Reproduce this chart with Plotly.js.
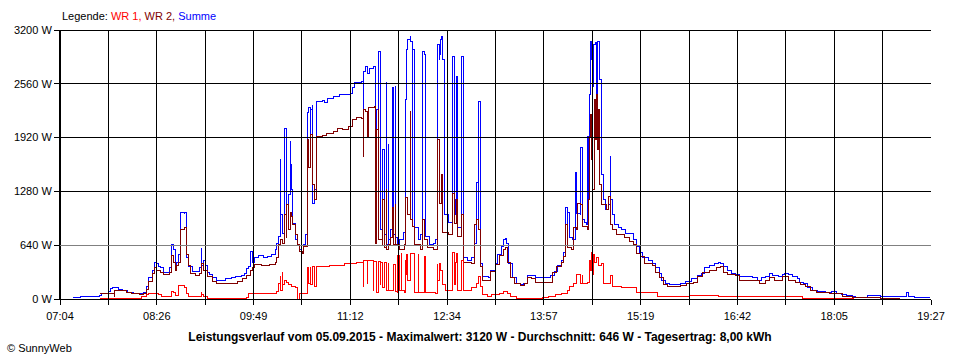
<!DOCTYPE html>
<html>
<head>
<meta charset="utf-8">
<script src="https://cdn.plot.ly/plotly-3.0.1.min.js"></script>
<style>
  html, body { margin: 0; padding: 0; background: #ffffff; }
  #chart { width: 960px; height: 360px; }
  #chart .scatterlayer path, #chart .shapelayer path { shape-rendering: crispEdges; }
</style>
</head>
<body>
<div id="chart"></div>
<script>
// Time in minutes after midnight, power in W
const sumT = [435.1,441.1,449.6,458.1,459,465,467.5,469.2,473.5,476.9,
482,486.3,492.2,494.8,497.4,499.9,502.5,504.2,505.9,507.6,
509.3,511.9,515.3,517.8,518.7,519.5,521.2,522.1,523.8,525.5,
526.4,527.2,529.8,530.6,531.5,532.3,534,536.6,540,542.6,
544.3,545.1,546.8,547.7,549.4,551.9,554.5,557.1,562.2,565.6,
569.9,574.1,578.4,581,583.5,585.2,586.1,587.8,590.3,593.7,
597.2,601.4,604.8,607.4,609.1,610.8,611.7,612.5,613.4,615.1,
615.9,616.8,617.6,618.5,619.3,620.2,621,621.9,622.7,624.5,
626.2,627.9,629.6,631.3,633,634.7,635.5,636.4,637.3,638.1,
639,639.8,641.5,642.4,647.5,650,652.6,657.7,662.8,668,
671.4,673.1,674.8,681.6,682.5,683.3,685,686.7,688.4,691.8,
693.5,694.4,695.3,697,697.8,699.5,700.4,702.1,702.9,703.8,
704.6,706.3,708,708.9,709.8,710.6,712.3,714,716.6,718.3,
719.1,720,720.8,722.6,723.4,724.3,725.1,726,726.8,729.4,
731.9,732.8,733.6,735.3,736.2,739.6,743,744.7,745.6,747.3,
748.1,749,749.8,750.7,751.6,755,758.4,759.2,760.1,761.8,
762.6,763.5,766.1,766.9,767.8,772,775.4,777.2,778.9,779.7,
780.6,781.4,782.3,784.8,789.1,791.6,795.1,797.6,800.2,802.7,
804.4,805.3,807,809.6,813,816.4,819.8,823.2,826.6,829.2,
837.7,842,845.4,848.8,851.4,853.9,855.6,856.5,857.3,858.2,
861.6,864.1,865,867.6,868.4,869.3,871.8,873.5,874.4,875.2,
876.1,876.9,877.8,878.6,879.5,881.2,882,882.9,884.6,885.5,
886.3,887.2,889.7,892.3,893.2,894,894.9,896.6,900,903.4,
906.8,910.2,912.8,916.2,918.7,921.3,925.6,929,932.4,935,
937.5,940.1,944.3,952.9,958,963.1,967.4,970.8,974.2,978.4,
981.9,985.3,987.8,990.4,993,996.4,999.8,1004,1010,1015.1,
1019.4,1022.8,1026.2,1029.6,1032.2,1036.5,1039.9,1042.4,1045.8,1049.2,
1052.7,1055.2,1058.6,1062,1065.5,1070.6,1077.4,1082.5,1086.8,1091,
1095.3,1100.4,1103,1112.4,1113.2,1120.9,1123.5,1132,1137.1,1145.6,
1146.5,1147.4,1152.5,1166.1];
const sumW = [12,24,30,42,71,95,125,131,119,101,
77,60,60,83,143,250,345,440,417,387,
369,321,321,369,452,643,583,381,440,524,
1000,1035,1012,1035,619,488,381,333,333,369,
595,393,464,393,321,286,250,226,226,238,
250,262,274,309,357,381,571,440,488,512,
488,500,524,583,655,738,1654,1000,785,1178,
2023,1297,1119,845,1238,1868,1595,1297,904,702,
643,583,559,643,762,845,2213,2273,1690,2249,
2297,1142,1297,2344,2356,2332,2380,2404,2428,2428,
2440,2511,2570,2582,1690,2701,2761,2678,2737,2761,
738,2249,2939,2939,821,1773,762,2570,643,1833,
702,821,2511,762,2523,726,643,702,797,2035,
2368,2963,3082,3118,3059,940,2963,2225,845,702,
762,2047,2939,2904,738,643,666,702,3023,2844,
2904,3082,3118,2844,1000,916,964,2880,1178,1000,
2642,845,821,2880,488,464,488,666,762,1380,
821,2344,428,262,250,345,428,524,619,702,
714,666,428,250,190,167,190,274,274,250,
250,274,333,393,464,559,1083,762,1035,726,
702,1499,1023,1000,1797,940,916,881,1928,1178,
2428,3058,2844,2523,3023,3046,2130,3058,2606,1654,
1476,1178,1059,1119,1690,1178,1000,881,845,821,
785,774,702,619,559,488,464,428,369,298,
226,179,167,179,214,238,274,309,369,393,
417,440,428,381,345,309,286,262,262,250,
226,250,262,298,274,262,286,309,286,262,
238,202,179,131,107,95,83,95,71,48,
36,24,12,12,36,42,24,30,24,24,
83,24,12,12];

const wr2T = [458.1,469.2,470.1,470.9,475.2,480.3,485.4,492.2,494.8,497.4,
499.9,502.5,504.2,506.7,509.3,511.9,515.3,517.8,519.5,521.2,
522.1,523.8,525.5,526.4,530.6,531.5,533.2,535.7,540,543.4,
544.3,546,549.4,553.7,557.9,569,575,580.1,583.5,586.1,
587.8,590.3,596.3,603.1,607.4,609.1,610.8,611.7,613.4,615.1,
615.9,616.8,617.6,618.5,620.2,621.9,622.7,624.5,626.2,627.9,
630.5,632.1,634.7,635.5,636.4,637.3,638.1,639,639.8,641.5,
642.4,647.5,651.7,656.9,661.1,665.4,669.7,673.1,676.5,681.6,
682.5,683.3,685,686.7,687.5,692.6,693.5,694.4,695.3,696.1,
698.7,699.5,700.4,702.1,702.9,704.6,706.3,708,708.9,709.8,
710.6,714,717.5,719.1,720.8,722.6,723.4,725.1,726.8,731.1,
733.6,735.3,737.9,743,745.6,746.4,748.1,749.8,750.7,755,
758.4,759.2,760.9,762.6,763.5,766.9,767.8,775.4,778,779.7,
781.4,782.3,784.8,789.1,791.6,795.1,798.5,801.9,804.4,806.1,
808.7,812.1,816.4,820.6,823.2,826.6,829.2,840.3,844.5,847.9,
851.4,853.9,854.8,856.5,857.3,860.7,862.4,865,865.8,868.4,
869.3,874.4,875.2,876.1,876.9,877.8,878.6,880.3,881.2,882,
882.9,883.7,884.6,886.3,890.6,892.3,894,895.7,899.1,905.9,
910.2,913.6,916.2,919.6,923,929,932.4,935.8,939.2,942.6,
952.9,958.8,964,968.2,972.5,978.4,983.6,987.8,990.4,993.8,
999.8,1004,1018.5,1021.1,1025.4,1029.6,1033.9,1040.7,1045.8,1051.8,
1056.1,1060.3,1064.6,1069.7,1080.8,1087.6,1091.9,1100.4,1112.4,1123.5,
1140.5];
const wr2W = [71,71,24,107,101,77,60,54,71,119,
214,298,369,345,321,286,286,321,512,440,
345,393,440,821,845,524,393,298,274,309,
417,345,262,214,190,190,214,238,274,345,
369,405,393,405,440,488,643,702,666,881,
1000,726,1119,821,1035,976,881,762,643,571,
547,619,797,1892,1559,1833,1952,1535,1357,1178,
1928,1940,1964,1987,2023,2011,2047,2130,2154,2142,
1690,2249,2225,1928,2273,2285,666,2011,2249,702,
643,1178,607,1297,583,643,726,1083,643,1119,
643,583,643,1202,1000,2225,940,857,643,583,
940,702,607,583,643,1892,1142,1476,797,762,
904,1261,904,1178,738,1000,440,428,881,940,
821,381,226,226,333,405,512,583,607,440,
250,179,155,190,250,238,202,202,321,381,
440,500,881,762,607,583,845,821,1142,1119,
857,821,1178,1928,2190,1654,1297,2368,1892,2428,
1773,2249,1357,1119,1059,1214,881,821,762,726,
690,643,547,500,428,393,321,250,167,143,
155,190,202,262,321,345,369,381,321,286,
274,226,226,190,226,250,226,262,226,202,
167,143,107,83,71,60,24,12,12,6,
0];

const wr1T = [458.1,469.2,493.9,497.4,499.9,505,507.6,511,517.8,518.7,
520.4,522.1,524.7,525.5,529.8,530.6,532.3,534,543.4,544.3,
545.1,546.8,549.4,583.5,585.2,607.4,609.1,610.8,611.7,612.5,
613.4,614.2,615.9,617.6,619.3,621.9,624.5,626.2,627,627.9,
634.7,635.5,636.4,637.3,638.1,639,641.5,642.4,654.3,667.1,
677.3,682.5,683.3,685.9,686.7,691,691.8,694.4,695.3,697,
697.8,699.5,701.2,702.1,703.8,704.6,708,708.9,709.8,711.5,
712.3,713.2,714.9,715.7,717.5,718.3,719.1,720,720.8,722.6,
725.1,726.8,729.4,730.2,734.5,735.3,736.2,744.7,745.6,746.4,
747.3,749,750.7,753.2,759.2,760.1,761.8,762.6,763.5,766.9,
768.6,774.6,778.9,780.6,782.3,784,788.3,792.5,798.5,802.7,
806.1,808.7,813.8,836,840.3,847.1,852.2,856.5,859,862.4,
865,867.6,869.3,870.1,874.4,876.1,876.9,877.8,878.6,879.5,
880.3,882,883.7,885.5,887.2,891.4,893.2,894.9,903.4,916.2,
934.1,961.4,985.3,1057.8,1100.4,1101.2];
const wr1W = [6,6,24,48,71,65,48,30,30,95,
83,42,48,155,155,131,60,30,24,83,
48,24,8,12,60,65,95,190,262,107,
321,167,226,202,167,143,131,107,0,71,
83,369,190,369,167,381,143,387,393,417,
440,143,464,190,464,107,452,83,452,167,
440,131,440,107,428,107,107,405,95,83,
512,107,536,107,83,464,286,524,226,547,
547,83,524,83,83,500,83,71,405,226,
428,345,167,107,559,167,440,547,107,464,
107,131,190,262,143,48,24,48,71,95,
60,24,8,12,24,48,71,107,143,190,
286,190,274,179,202,464,345,559,286,524,
440,488,393,428,190,179,274,143,131,83,
24,42,24,8,6,0];

// Axis labels
const xStart = 424;   // 07:04
const xEnd = 1167;    // 19:27
const xLabels = ["07:04","08:26","09:49","11:12","12:34","13:57","15:19","16:42","18:05","19:27"];
const yTicks = [0, 640, 1280, 1920, 2560, 3200];
const yLabels = ["0 W","640 W","1280 W","1920 W","2560 W","3200 W"];

const nGrid = (xLabels.length - 1) * 2;
const xGrid = [];
const xText = [];
for (let i = 0; i <= nGrid; i++) {
  xGrid.push(xStart + (xEnd - xStart) * i / nGrid);
  xText.push(i % 2 === 0 ? xLabels[i / 2] : "");
}

const shapes = [];
xGrid.forEach(v => shapes.push({
  type: 'line', xref: 'x', yref: 'paper', x0: v, x1: v, y0: 0, y1: 1,
  line: { color: '#000000', width: 1 }, layer: 'above'
}));
yTicks.forEach(v => shapes.push({
  type: 'line', xref: 'paper', yref: 'y', x0: 0, x1: 1, y0: v, y1: v,
  line: { color: v === 640 ? '#808080' : '#000000', width: 1 }, layer: 'above'
}));

const FONT = 'Liberation Sans, Arial, sans-serif';

const traces = [
  { x: sumT, y: sumW, name: 'Summe', type: 'scatter', mode: 'lines',
    line: { color: '#0000ff', width: 1, shape: 'hv' } },
  { x: wr2T, y: wr2W, name: 'WR 2', type: 'scatter', mode: 'lines',
    line: { color: '#800000', width: 1, shape: 'hv' } },
  { x: wr1T, y: wr1W, name: 'WR 1', type: 'scatter', mode: 'lines',
    line: { color: '#ff0000', width: 1, shape: 'hv' } }
];

const layout = {
  width: 960, height: 360,
  margin: { l: 60, r: 29, t: 30, b: 61, pad: 0 },
  paper_bgcolor: '#ffffff', plot_bgcolor: '#ffffff',
  showlegend: false,
  font: { family: FONT, size: 11, color: '#000000' },
  title: {
    text: '<b>Leistungsverlauf vom 05.09.2015 - Maximalwert: 3120 W - Durchschnitt: 646 W - Tagesertrag: 8,00 kWh</b>',
    font: { family: FONT, size: 12, color: '#000000' },
    xref: 'container', yref: 'container', x: 0.5, y: 0.064,
    xanchor: 'center', yanchor: 'middle'
  },
  xaxis: {
    range: [xStart, xEnd], tickmode: 'array', tickvals: xGrid, ticktext: xText,
    showgrid: false, zeroline: false, showline: true, linecolor: '#000000', linewidth: 1,
    ticks: 'outside', ticklen: 5, tickwidth: 1, tickcolor: '#000000', ticklabelstandoff: 2,
    tickfont: { family: FONT, size: 11, color: '#000000' }, fixedrange: true
  },
  yaxis: {
    range: [0, 3200], tickmode: 'array', tickvals: yTicks, ticktext: yLabels,
    showgrid: false, zeroline: false, showline: true, linecolor: '#000000', linewidth: 1,
    ticks: 'outside', ticklen: 5, tickwidth: 1, tickcolor: '#000000',
    tickfont: { family: FONT, size: 11, color: '#000000' }, fixedrange: true
  },
  shapes: shapes,
  annotations: [
    { xref: 'paper', yref: 'paper', x: 0, y: 1.052, xanchor: 'left', yanchor: 'middle',
      showarrow: false, font: { family: FONT, size: 11, color: '#000000' },
      text: 'Legende: <span style="color:#ff0000">WR 1,</span> <span style="color:#800000">WR 2,</span> <span style="color:#0000ff">Summe</span>' },
    { xref: 'paper', yref: 'paper', x: -0.0631, y: -0.182, xanchor: 'left', yanchor: 'middle',
      showarrow: false, font: { family: FONT, size: 11, color: '#000000' },
      text: '© SunnyWeb' }
  ]
};

Plotly.newPlot('chart', traces, layout, { displayModeBar: false, staticPlot: true });
</script>
</body>
</html>
